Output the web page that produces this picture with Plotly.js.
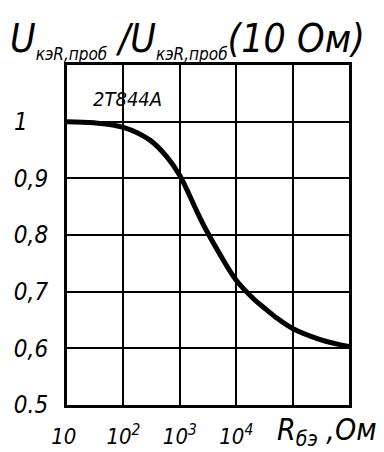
<!DOCTYPE html>
<html>
<head>
<meta charset="utf-8">
<script src="https://cdn.plot.ly/plotly-3.0.1.min.js"></script>
<style>
html,body{margin:0;padding:0;background:#fff;}
#chart{width:384px;height:452px;}
#chart svg text{font-stretch:condensed;}
</style>
</head>
<body>
<div id="chart"></div>
<script>
// Data (R in Ohm, ratio of breakdown voltages)
const resistance = [10, 30, 100, 300, 600, 1000, 2000, 3000, 5000, 10000, 20000, 30000, 50000, 100000, 300000, 1000000];
const ratio = [1.0, 0.998, 0.99, 0.967, 0.937, 0.905, 0.842, 0.807, 0.768, 0.72, 0.688, 0.673, 0.655, 0.635, 0.616, 0.603];

const xTickVals = [10, 100, 1000, 10000, 100000, 1000000];
const xTickText = ['10\u00a0', '10<sup>2</sup>', '10<sup>3</sup>', '10<sup>4</sup>', '', ''];
const yTickVals = [0.5, 0.6, 0.7, 0.8, 0.9, 1.0, 1.1];
const yTickText = ['0.5', '0,6', '0,7', '0,8', '0,9', '1\u00a0\u00a0\u00a0', ''];

const deviceLabel = '2Т844А';
const subText = '<span style="font-size:17px">кэR,проб</span>';
const chartTitle = '<i>U<sub>' + subText + '</sub> /U<sub>' + subText + '</sub>(10 Ом)</i>';
const xLabel = '<i>R<sub>бэ</sub> ,Ом</i>';

const FONT = '"DejaVu Sans Condensed", "Liberation Sans Narrow", "DejaVu Sans", sans-serif';

const trace = {
  x: resistance,
  y: ratio,
  type: 'scatter',
  mode: 'lines',
  line: {color: '#000', width: 5, shape: 'spline', smoothing: 1},
  hoverinfo: 'skip'
};

const layout = {
  width: 384,
  height: 452,
  margin: {l: 67, r: 35, t: 65, b: 47},
  paper_bgcolor: '#fff',
  plot_bgcolor: '#fff',
  showlegend: false,
  font: {family: FONT, color: '#000', size: 20},
  title: {
    text: chartTitle,
    font: {family: FONT, size: 39, color: '#000', style: 'italic'},
    x: 0.026, xanchor: 'left', xref: 'container',
    y: 0.915, yanchor: 'middle'
  },
  xaxis: {
    type: 'log',
    range: [1, 6],
    tickvals: xTickVals,
    ticktext: xTickText,
    ticks: '',
    ticklabelstandoff: 10,
    tickfont: {family: FONT, size: 22, color: '#000', style: 'italic'},
    showgrid: true, gridcolor: '#000', gridwidth: 2,
    showline: true, linecolor: '#000', linewidth: 3, mirror: true,
    zeroline: false, fixedrange: true
  },
  yaxis: {
    range: [0.5, 1.1],
    tickvals: yTickVals,
    ticktext: yTickText,
    ticks: '',
    ticklabelstandoff: 11,
    tickfont: {family: FONT, size: 24, color: '#000', style: 'italic'},
    showgrid: true, gridcolor: '#000', gridwidth: 2,
    showline: true, linecolor: '#000', linewidth: 3, mirror: true,
    zeroline: false, fixedrange: true
  },
  annotations: [
    {
      text: deviceLabel, xref: 'paper', yref: 'paper', x: 0.213, y: 0.9,
      xanchor: 'center', yanchor: 'middle', showarrow: false,
      font: {family: FONT, size: 20, color: '#000', style: 'italic'}
    },
    {
      text: xLabel, xref: 'paper', yref: 'paper', x: 1.108, y: -0.077,
      xanchor: 'right', yanchor: 'middle', showarrow: false,
      font: {family: FONT, size: 30, color: '#000', style: 'italic'}
    }
  ]
};

Plotly.newPlot('chart', [trace], layout, {displayModeBar: false, staticPlot: true});
</script>
</body>
</html>
